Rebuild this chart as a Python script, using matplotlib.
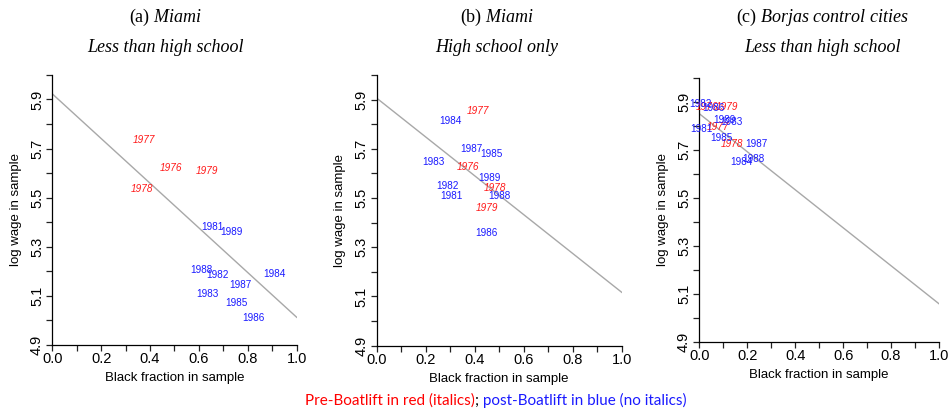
import matplotlib
matplotlib.use("Agg")
import matplotlib.pyplot as plt
import numpy as np

plt.rcParams['font.family'] = ['Liberation Sans', 'DejaVu Sans']
plt.rcParams['mathtext.fontset'] = 'custom'
plt.rcParams['mathtext.rm'] = 'Liberation Serif'
plt.rcParams['mathtext.it'] = 'Liberation Serif:italic'

# ---------------- data ----------------
years = [1976, 1977, 1978, 1979, 1981, 1982, 1983, 1984, 1985, 1986, 1987, 1988, 1989]
pre_boatlift = [True, True, True, True, False, False, False, False, False, False, False, False, False]

# (a) Miami, less than high school
black_frac_a = [0.484, 0.377, 0.368, 0.634, 0.655, 0.675, 0.636, 0.911, 0.754, 0.825, 0.768, 0.611, 0.733]
log_wage_a = [5.621, 5.735, 5.533, 5.609, 5.380, 5.182, 5.107, 5.188, 5.071, 5.009, 5.142, 5.206, 5.360]
fit_a = [5.923, 5.011]

# (b) Miami, high school only
black_frac_b = [0.371, 0.415, 0.482, 0.449, 0.305, 0.287, 0.230, 0.299, 0.467, 0.450, 0.388, 0.499, 0.461]
log_wage_b = [5.628, 5.854, 5.541, 5.458, 5.510, 5.550, 5.647, 5.812, 5.681, 5.357, 5.698, 5.508, 5.581]
fit_b = [5.906, 5.117]

# (c) Borjas control cities, less than high school
black_frac_c = [0.032, 0.079, 0.135, 0.114, 0.010, 0.003, 0.135, 0.177, 0.093, 0.058, 0.239, 0.225, 0.107]
log_wage_c = [5.877, 5.793, 5.724, 5.878, 5.788, 5.892, 5.814, 5.650, 5.748, 5.874, 5.724, 5.660, 5.825]
fit_c = [5.850, 5.058]

fit_x = [0.0, 1.0]

titles_line1 = [r"(a) $\mathit{Miami}$", r"(b) $\mathit{Miami}$", r"(c) $\mathit{Borjas\ control\ cities}$"]
titles_line2 = ["Less than high school", "High school only", "Less than high school"]

x_ticks = [0.0, 0.1, 0.2, 0.3, 0.4, 0.5, 0.6, 0.7, 0.8, 0.9, 1.0]
x_ticklabels = ["0.0", "", "0.2", "", "0.4", "", "0.6", "", "0.8", "", "1.0"]
y_ticks = [4.9, 5.0, 5.1, 5.2, 5.3, 5.4, 5.5, 5.6, 5.7, 5.8, 5.9, 6.0]
y_ticklabels = ["4.9", "", "5.1", "", "5.3", "", "5.5", "", "5.7", "", "5.9", ""]

caption_pre = "Pre-Boatlift in red (italics)"
caption_sep = ";"
caption_post = " post-Boatlift in blue (no italics)"

# ---------------- layout ----------------
W, H = 950, 412
fig = plt.figure(figsize=(W / 100, H / 100), dpi=100)

def px_axes(left, right, top, bottom):
    return [left / W, 1 - bottom / H, (right - left) / W, (bottom - top) / H]

axes_px = [(52.3, 296.7, 75.0, 344.5),
           (376.7, 621.7, 75.0, 345.7),
           (699.3, 939.0, 77.7, 341.7)]
title_x_px = [165, 497, 822]

panels = [(black_frac_a, log_wage_a, fit_a),
          (black_frac_b, log_wage_b, fit_b),
          (black_frac_c, log_wage_c, fit_c)]

RED = "#ff1a1a"
BLUE = "#1a1aff"

for i, ((xs, ys, fit), (l, r, t, b)) in enumerate(zip(panels, axes_px)):
    ax = fig.add_axes(px_axes(l, r, t, b))
    ax.set_xlim(0, 1)
    ax.set_ylim(4.9, 6.0)
    for s in ["top", "right"]:
        ax.spines[s].set_visible(False)
    for s in ["left", "bottom"]:
        ax.spines[s].set_linewidth(0.9)
    ax.plot(fit_x, fit, color="#a8a8a8", lw=1.0, zorder=1)
    for yr, pre, xv, yv in zip(years, pre_boatlift, xs, ys):
        ax.text(xv, yv, str(yr), ha="center", va="center", fontsize=7.2,
                color=RED if pre else BLUE, style="italic" if pre else "normal",
                clip_on=False, zorder=3)
    ax.set_xticks(x_ticks)
    ax.set_xticklabels(x_ticklabels, fontsize=10.5)
    ax.set_yticks(y_ticks)
    ax.set_yticklabels(y_ticklabels, fontsize=10.5, rotation=90, va="center")
    ax.tick_params(axis="both", length=4, width=0.9, color="#222222")
    ax.tick_params(axis="x", pad=1.5)
    ax.tick_params(axis="y", pad=2)
    ax.set_xlabel("Black fraction in sample", fontsize=9.5, labelpad=4)
    ax.set_ylabel("log wage in sample", fontsize=9.5, labelpad=6)
    fig.text(title_x_px[i] / W, 1 - 17 / H, titles_line1[i], ha="center", va="center",
             fontsize=13, family="Liberation Serif")
    fig.text(title_x_px[i] / W, 1 - 47 / H, titles_line2[i], ha="center", va="center",
             fontsize=13, family="Liberation Serif", style="italic")

# caption
t1 = fig.text(305 / W, 1 - 401 / H, caption_pre, ha="left", va="center",
              fontsize=11, family="Lato", color="#ff0000")
ann1 = fig.axes[0].annotate(caption_sep, xy=(1, 0), xycoords=t1, ha="left", va="bottom",
                            fontsize=11, family="Lato", color="black")
ann2 = fig.axes[0].annotate(caption_post, xy=(1, 0), xycoords=ann1, ha="left", va="bottom",
                            fontsize=11, family="Lato", color="#1a1aff")

fig.savefig("out.png", dpi=100)
